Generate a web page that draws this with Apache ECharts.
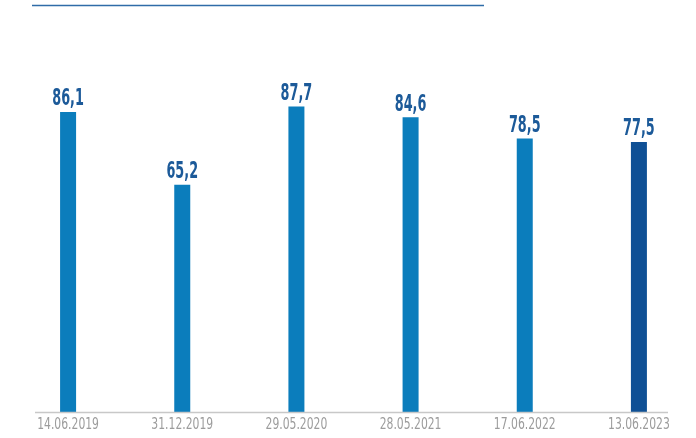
<!DOCTYPE html>
<html>
<head>
<meta charset="utf-8">
<script src="https://cdn.jsdelivr.net/npm/echarts@6/dist/echarts.min.js"></script>
<style>
  html, body { margin: 0; padding: 0; background: #ffffff; }
  #chart { width: 696px; height: 438px; }
</style>
</head>
<body>
<div id="chart"></div>
<script>
// Dates of the measurements and the values recorded on each
const categories = ['14.06.2019', '31.12.2019', '29.05.2020', '28.05.2021', '17.06.2022', '13.06.2023'];
const values = [86.1, 65.2, 87.7, 84.6, 78.5, 77.5];
const valueLabels = ['86,1', '65,2', '87,7', '84,6', '78,5', '77,5'];

const barColor = '#0b7dbc';
const latestColor = '#0f5095';
const condensed = '"DejaVu Sans Condensed", "Liberation Sans Narrow", sans-serif';

const chart = echarts.init(document.getElementById('chart'), null, { renderer: 'canvas' });

chart.setOption({
  animation: false,
  backgroundColor: '#ffffff',
  grid: { left: 11, right: -1.5, top: 63.6, bottom: 26 },
  xAxis: {
    type: 'category',
    data: categories,
    axisLine: { show: false },
    axisTick: { show: false },
    axisLabel: { show: false }
  },
  yAxis: {
    type: 'value',
    min: 0,
    max: 100,
    show: false,
    splitLine: { show: false }
  },
  series: [
    {
      type: 'bar',
      barWidth: 16,
      data: values.map((v, i) => ({
        value: v,
        itemStyle: { color: i === values.length - 1 ? latestColor : barColor }
      }))
    },
    {
      // value labels above each bar, set in a narrowed bold face
      type: 'custom',
      z: 5,
      data: values.map((v, i) => [i, v]),
      renderItem: (params, api) => {
        const pt = api.coord([api.value(0), api.value(1)]);
        return {
          type: 'text',
          x: pt[0],
          y: pt[1] - 1,
          scaleX: 0.62,
          style: {
            text: valueLabels[params.dataIndex],
            font: 'bold 23px ' + condensed,
            fill: '#1c5a99',
            align: 'center',
            verticalAlign: 'bottom'
          }
        };
      }
    },
    {
      // date labels under the baseline
      type: 'custom',
      z: 5,
      data: categories.map((c, i) => [i, 0]),
      renderItem: (params, api) => {
        const pt = api.coord([api.value(0), 0]);
        return {
          type: 'text',
          x: pt[0],
          y: pt[1] + 5,
          scaleX: 0.75,
          style: {
            text: categories[params.dataIndex],
            font: '16px ' + condensed,
            fill: '#9c9c9c',
            align: 'center',
            verticalAlign: 'top'
          }
        };
      }
    }
  ],
  graphic: [
    {
      // rule above the chart
      type: 'line',
      shape: { x1: 32, y1: 5.5, x2: 484, y2: 5.5 },
      style: { stroke: '#2f6ca8', lineWidth: 1.5 }
    },
    {
      // baseline under the bars
      type: 'line',
      z: 10,
      shape: { x1: 35, y1: 412.5, x2: 668, y2: 412.5 },
      style: { stroke: '#c8c8c8', lineWidth: 1.5 }
    }
  ]
});
</script>
</body>
</html>
